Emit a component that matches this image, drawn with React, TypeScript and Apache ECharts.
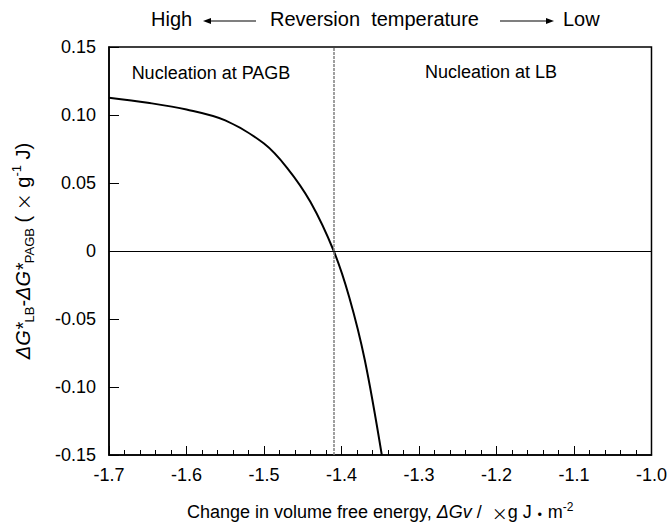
import React, { useEffect, useRef } from "react";
import * as echarts from "echarts";

const curveX = [-1.7, -1.65, -1.6, -1.55, -1.5, -1.47, -1.44, -1.41, -1.39, -1.37, -1.348];
const curveY = [0.1127, 0.109, 0.104, 0.096, 0.079, 0.061, 0.036, 0.0, -0.034, -0.08, -0.15];
const boundaryX = -1.41;
const xTicks = [-1.7, -1.6, -1.5, -1.4, -1.3, -1.2, -1.1, -1.0];
const yTicks = [-0.15, -0.1, -0.05, 0, 0.05, 0.1, 0.15];
const regionLabels = ["Nucleation at PAGB", "Nucleation at LB"];

const FONT = "'Liberation Sans', Arial, sans-serif";
const CJK = "'Noto Sans CJK JP', sans-serif";

export default function App() {
  const ref = useRef<HTMLDivElement>(null);
  useEffect(() => {
    if (!ref.current) return;
    const chart = echarts.init(ref.current, null, { renderer: "svg" });
    const data = curveX.map((x, i) => [x, curveY[i]]);
    const txt = (extra: any = {}) => ({ fontSize: 18, color: "#000", fontFamily: FONT, lineHeight: 20, ...extra });
    const option: any = {
      animation: false,
      backgroundColor: "#fff",
      textStyle: { fontFamily: FONT },
      grid: {
        left: 109, right: 17, top: 47, bottom: 73,
        show: true, borderColor: "#000", borderWidth: 1.5, backgroundColor: "transparent",
      },
      xAxis: {
        type: "value",
        min: xTicks[0], max: xTicks[xTicks.length - 1], interval: 0.1,
        axisLine: { onZero: false, lineStyle: { color: "#000", width: 1.5 } },
        axisTick: { inside: true, length: 9, lineStyle: { color: "#000", width: 1 } },
        minorTick: { show: true, splitNumber: 5, length: 5, lineStyle: { color: "#000", width: 1 } },
        splitLine: { show: false },
        axisLabel: { color: "#000", fontSize: 18, fontFamily: FONT, margin: 11, formatter: (v: number) => v.toFixed(1) },
        name: "{n|Change in volume free energy, }{i|ΔGv}{n| /  }{c|×}{n|g J}{c|・}{n|m}{sup|-2}",
        nameLocation: "middle", nameGap: 46,
        nameTextStyle: {
          color: "#000", fontFamily: FONT,
          rich: {
            n: txt({ verticalAlign: "bottom" }),
            i: txt({ fontStyle: "italic", verticalAlign: "bottom" }),
            c: txt({ fontFamily: CJK, fontSize: 16, verticalAlign: "bottom" }),
            sup: txt({ fontSize: 12, lineHeight: 18, verticalAlign: "top" }),
          },
        },
      },
      yAxis: {
        type: "value",
        min: yTicks[0], max: yTicks[yTicks.length - 1], interval: 0.05,
        axisLine: { onZero: false, lineStyle: { color: "#000", width: 1.5 } },
        axisTick: { inside: true, length: 10, lineStyle: { color: "#000", width: 1 } },
        splitLine: { show: false },
        axisLabel: {
          color: "#000", fontSize: 18, fontFamily: FONT, margin: 13,
          formatter: (v: number) => (Math.abs(v) < 1e-9 ? "0" : v.toFixed(2)),
        },
        name: "{i|ΔG*}{sub|LB}{n|-}{i|ΔG*}{sub|PAGB}{n| ( }{c|×}{n| g}{sup|-1}{n| J)}",
        nameLocation: "middle", nameGap: 73, nameRotate: 90,
        nameTextStyle: {
          color: "#000", fontFamily: FONT,
          rich: {
            n: txt({ fontSize: 20, lineHeight: 26, verticalAlign: "middle" }),
            i: txt({ fontSize: 20, lineHeight: 26, fontStyle: "italic", verticalAlign: "middle" }),
            c: txt({ fontSize: 17, lineHeight: 26, fontFamily: CJK, verticalAlign: "middle" }),
            sub: txt({ fontSize: 13, lineHeight: 26, verticalAlign: "bottom" }),
            sup: txt({ fontSize: 13, lineHeight: 26, verticalAlign: "top" }),
          },
        },
      },
      series: [
        {
          type: "line",
          data,
          smooth: 0.35,
          symbol: "none",
          lineStyle: { color: "#000", width: 2 },
          markLine: {
            silent: true,
            symbol: "none",
            label: { show: false },
            data: [
              { xAxis: boundaryX, lineStyle: { color: "#808080", type: [3, 1], width: 1.5 } },
              { yAxis: 0, lineStyle: { color: "#000", type: "solid", width: 1 } },
            ],
          },
        },
      ],
      graphic: [
        { type: "text", left: 151, top: 9, style: { text: "High", fontSize: 20, fontFamily: FONT, fill: "#000" } },
        { type: "line", shape: { x1: 210, y1: 21, x2: 256, y2: 21 }, style: { stroke: "#000", lineWidth: 1.2 } },
        { type: "polygon", shape: { points: [[203, 21], [211, 18], [211, 24]] }, style: { fill: "#000" } },
        { type: "text", left: 270, top: 9, style: { text: "Reversion  temperature", fontSize: 20, fontFamily: FONT, fill: "#000" } },
        { type: "line", shape: { x1: 500, y1: 21, x2: 547, y2: 21 }, style: { stroke: "#000", lineWidth: 1.2 } },
        { type: "polygon", shape: { points: [[554, 21], [546, 18], [546, 24]] }, style: { fill: "#000" } },
        { type: "text", left: 563, top: 9, style: { text: "Low", fontSize: 20, fontFamily: FONT, fill: "#000" } },
        { type: "text", x: 211, y: 73, style: { text: regionLabels[0], fontSize: 18, fontFamily: FONT, fill: "#000", align: "center", verticalAlign: "middle" } },
        { type: "text", x: 491, y: 72, style: { text: regionLabels[1], fontSize: 18, fontFamily: FONT, fill: "#000", align: "center", verticalAlign: "middle" } },
      ],
    };
    chart.setOption(option);
    return () => chart.dispose();
  }, []);
  return <div ref={ref} style={{ width: 670, height: 528, position: "absolute", left: 0, top: 0 }} />;
}
